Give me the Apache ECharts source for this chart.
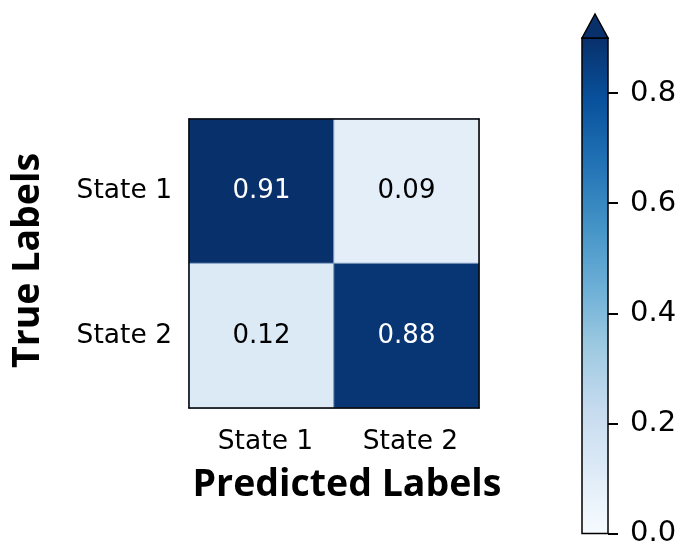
<!DOCTYPE html>
<html>
<head>
<meta charset="utf-8">
<script src="https://cdn.jsdelivr.net/npm/echarts@6/dist/echarts.min.js"></script>
<style>
  html, body { margin: 0; padding: 0; background: #fff; }
  #chart { width: 686px; height: 548px; }
</style>
</head>
<body>
<div id="chart"></div>
<script>
// Confusion matrix: rows are true labels, columns are predicted labels
const predictedLabels = ['State 1', 'State 2'];
const trueLabels = ['State 1', 'State 2'];
const rowState1 = [0.91, 0.09];
const rowState2 = [0.12, 0.88];
const colorbarTicks = [0, 0.2, 0.4, 0.6, 0.8];
const colorMin = 0;
const colorMax = 0.9;

// matplotlib "Blues" colormap stops
const blues = ['#f7fbff', '#deebf7', '#c6dbef', '#9ecae1', '#6baed6',
               '#4292c6', '#2171b5', '#08519c', '#08306b'];

// layout
const HM = { left: 189, top: 119, width: 290, height: 289 };
const CB = { left: 582, top: 38, width: 26, height: 497 };
const tickFont = 'DejaVu Sans';
const titleFont = '"Open Sans", "Noto Sans", sans-serif';

const rows = [rowState1, rowState2];
const cells = [];
rows.forEach((row, r) => {
  row.forEach((v, c) => {
    cells.push({
      value: [c, r, v],
      label: { color: v > (colorMax + colorMin) / 2 ? '#ffffff' : '#000000' }
    });
  });
});

const gradient = new echarts.graphic.LinearGradient(0, 1, 0, 0,
  blues.map((c, i) => ({ offset: i / (blues.length - 1), color: c })));

const chart = echarts.init(document.getElementById('chart'), null, { renderer: 'canvas' });

chart.setOption({
  animation: false,
  backgroundColor: '#ffffff',
  grid: [
    { left: HM.left, top: HM.top, width: HM.width, height: HM.height, containLabel: false },
    { left: CB.left, top: CB.top, width: CB.width, height: CB.height, containLabel: false,
      show: true, backgroundColor: gradient, borderColor: '#000', borderWidth: 1.5 }
  ],
  xAxis: [
    {
      type: 'category', gridIndex: 0, data: predictedLabels, position: 'bottom', z: 10,
      axisLine: { show: true, lineStyle: { color: '#000', width: 1.5 } },
      axisTick: { show: false },
      axisLabel: { color: '#000', fontFamily: tickFont, fontSize: 26.5, margin: 21,
                   padding: [0, 0, 0, 8] },
      splitLine: { show: false },
      name: 'Predicted Labels', nameLocation: 'middle', nameGap: 58,
      nameTextStyle: { color: '#000', fontFamily: titleFont, fontWeight: 'bold', fontSize: 37.5,
                       padding: [0, 0, 0, 26] }
    },
    {
      type: 'category', gridIndex: 0, data: predictedLabels, position: 'top', z: 10,
      axisLine: { show: true, onZero: false, lineStyle: { color: '#000', width: 1.5 } },
      axisTick: { show: false }, axisLabel: { show: false }, splitLine: { show: false }
    },
    {
      type: 'category', gridIndex: 1, data: [''], show: false
    }
  ],
  yAxis: [
    {
      type: 'category', gridIndex: 0, data: trueLabels, inverse: true, position: 'left', z: 10,
      axisLine: { show: true, lineStyle: { color: '#000', width: 1.5 } },
      axisTick: { show: false },
      axisLabel: { color: '#000', fontFamily: tickFont, fontSize: 26.5, margin: 17 },
      splitLine: { show: false },
      name: 'True Labels', nameLocation: 'middle', nameGap: 142,
      nameTextStyle: { color: '#000', fontFamily: titleFont, fontWeight: 'bold', fontSize: 37.5,
                       padding: [0, 0, 0, 6] }
    },
    {
      type: 'category', gridIndex: 0, data: trueLabels, inverse: true, position: 'right', z: 10,
      axisLine: { show: true, onZero: false, lineStyle: { color: '#000', width: 1.5 } },
      axisTick: { show: false }, axisLabel: { show: false }, splitLine: { show: false }
    },
    {
      type: 'value', gridIndex: 1, min: colorMin, max: colorMax, position: 'right', z: 10,
      axisLine: { show: false, onZero: false },
      axisTick: { show: true, inside: false, length: 10, customValues: colorbarTicks,
                  lineStyle: { color: '#000', width: 2 } },
      axisLabel: { color: '#000', fontFamily: tickFont, fontSize: 29, margin: 22,
                   customValues: colorbarTicks, formatter: v => v.toFixed(1) },
      splitLine: { show: false }
    }
  ],
  visualMap: {
    type: 'continuous', show: false, seriesIndex: 0, dimension: 2,
    min: colorMin, max: colorMax,
    inRange: { color: blues },
    outOfRange: { color: blues[blues.length - 1] }
  },
  series: [
    {
      type: 'heatmap', xAxisIndex: 0, yAxisIndex: 0, data: cells,
      itemStyle: { borderColor: '#7e9cc0', borderWidth: 1 },
      label: { show: true, fontFamily: tickFont, fontSize: 26, formatter: p => p.value[2].toFixed(2) },
      emphasis: { disabled: true }
    }
  ],
  graphic: [
    {
      // "extend max" arrow on top of the colour bar
      type: 'polygon', z: 100,
      shape: { points: [[CB.left, CB.top], [CB.left + CB.width / 2, CB.top - 24], [CB.left + CB.width, CB.top]] },
      style: { fill: blues[blues.length - 1], stroke: '#000', lineWidth: 1.5, lineJoin: 'miter' }
    }
  ]
});
</script>
</body>
</html>
